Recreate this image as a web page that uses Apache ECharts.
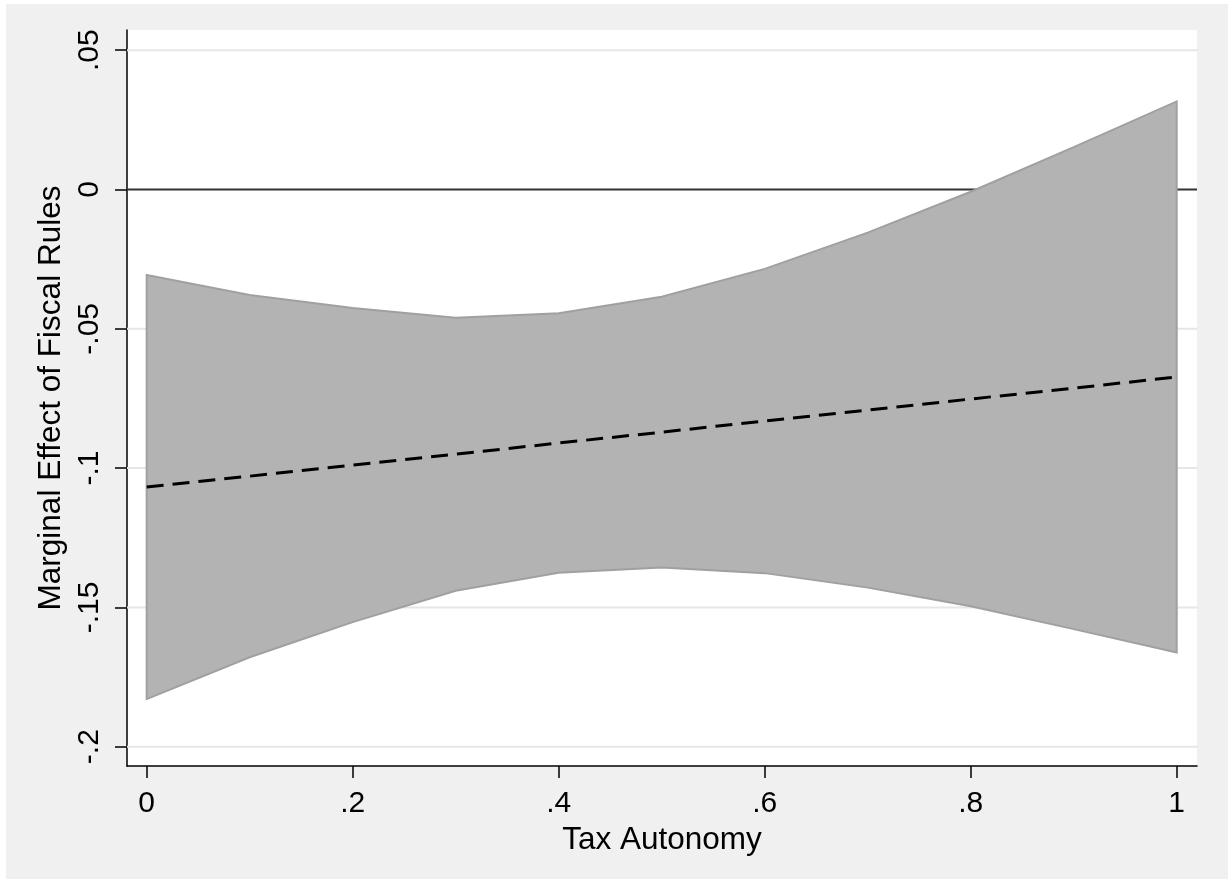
<!DOCTYPE html>
<html>
<head>
<meta charset="utf-8">
<script src="https://cdn.jsdelivr.net/npm/echarts@6/dist/echarts.min.js"></script>
<style>
html,body{margin:0;padding:0;background:#ffffff;}
#chart{position:absolute;left:6px;top:4px;width:1222px;height:875px;}
</style>
</head>
<body>
<div id="chart"></div>
<script>
// ---- data ----
const taxAutonomy = [0, 0.1, 0.2, 0.3, 0.4, 0.5, 0.6, 0.7, 0.8, 0.9, 1.0];
const estimate = [-0.1068, -0.1029, -0.0989, -0.0950, -0.0910, -0.0871, -0.0831, -0.0792, -0.0752, -0.0713, -0.0673];
const upperCI  = [-0.0307, -0.0379, -0.0425, -0.0460, -0.0444, -0.0385, -0.0285, -0.0155, -0.0008, 0.0152, 0.0316];
const lowerCI  = [-0.1829, -0.1679, -0.1553, -0.1440, -0.1376, -0.1357, -0.1377, -0.1429, -0.1496, -0.1578, -0.1662];
const xTickValues = [0, 0.2, 0.4, 0.6, 0.8, 1];
const xTickLabels = ['0', '.2', '.4', '.6', '.8', '1'];
const yTickValues = [-0.2, -0.15, -0.1, -0.05, 0, 0.05];
const yTickLabels = ['-.2', '-.15', '-.1', '-.05', '0', '.05'];
const gridLineValues = [-0.2, -0.15, -0.1, -0.05, 0.05];
const referenceLine = 0;

const X_MIN = -0.0191, X_MAX = 1.0197;
const Y_MIN = -0.20693, Y_MAX = 0.05725;

function lookup(vals, labels, v) {
  for (let i = 0; i < vals.length; i++) if (Math.abs(vals[i] - v) < 1e-9) return labels[i];
  return '';
}

const FONT = 'Liberation Sans, Arial, Helvetica, sans-serif';
const FS = 30;
const FS_NAME = 31.5;
const chart = echarts.init(document.getElementById('chart'));

const bandPoints = [];
taxAutonomy.forEach((x, i) => bandPoints.push([x, upperCI[i]]));
for (let i = taxAutonomy.length - 1; i >= 0; i--) bandPoints.push([taxAutonomy[i], lowerCI[i]]);

function hLine(api, y, color, width) {
  const a = api.coord([X_MIN, y]);
  const b = api.coord([X_MAX, y]);
  return { type: 'line', shape: { x1: a[0], y1: a[1], x2: b[0], y2: b[1] },
           style: { stroke: color, lineWidth: width } };
}

chart.setOption({
  backgroundColor: '#f0f0f0',
  animation: false,
  textStyle: { fontFamily: FONT },
  grid: { left: 121, top: 26, width: 1070, height: 736, show: true, backgroundColor: '#ffffff', borderWidth: 0 },
  xAxis: {
    type: 'value', min: X_MIN, max: X_MAX,
    name: 'Tax Autonomy', nameLocation: 'middle', nameGap: 51,
    nameTextStyle: { fontSize: FS_NAME, color: '#000', fontFamily: FONT },
    axisLine: { show: true, onZero: false, lineStyle: { color: '#000', width: 1.5 } },
    axisTick: { show: true, length: 12, lineStyle: { color: '#000', width: 1.5 }, customValues: xTickValues },
    axisLabel: { fontSize: FS, color: '#000', margin: 23, fontFamily: FONT, customValues: xTickValues,
      formatter: v => lookup(xTickValues, xTickLabels, v) },
    splitLine: { show: false }
  },
  yAxis: {
    type: 'value', min: Y_MIN, max: Y_MAX,
    name: 'Marginal Effect of Fiscal Rules', nameLocation: 'middle', nameGap: 47, nameRotate: 90,
    nameTextStyle: { fontSize: FS_NAME, color: '#000', fontFamily: FONT },
    axisLine: { show: true, onZero: false, lineStyle: { color: '#000', width: 1.5 } },
    axisTick: { show: true, length: 12, lineStyle: { color: '#000', width: 1.5 }, customValues: yTickValues },
    axisLabel: { fontSize: FS, color: '#000', margin: 22, rotate: 90, fontFamily: FONT, customValues: yTickValues,
      formatter: v => lookup(yTickValues, yTickLabels, v) },
    splitLine: { show: false }
  },
  series: [
    {
      type: 'custom', z: 2, silent: true, data: [0], clip: true,
      renderItem: function (params, api) {
        const children = gridLineValues.map(v => hLine(api, v, '#e6e6e6', 2));
        children.push(hLine(api, referenceLine, '#333333', 2.2));
        children.push({
          type: 'polygon',
          shape: { points: bandPoints.map(p => api.coord(p)) },
          style: { fill: '#b3b3b3', stroke: '#a0a0a0', lineWidth: 2 }
        });
        return { type: 'group', children: children };
      }
    },
    {
      type: 'line', z: 3, silent: true, symbol: 'none',
      data: taxAutonomy.map((x, i) => [x, estimate[i]]),
      lineStyle: { color: '#000', width: 3, type: [17, 9] }
    }
  ]
});
</script>
</body>
</html>
